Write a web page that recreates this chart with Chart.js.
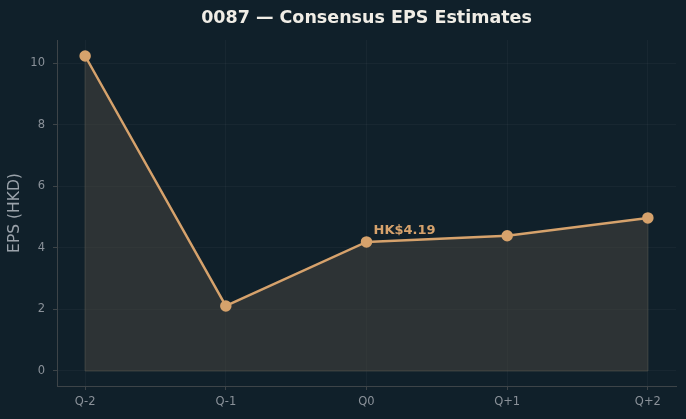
<!DOCTYPE html>
<html>
<head>
<meta charset="utf-8">
<script src="https://cdn.jsdelivr.net/npm/chart.js@4"></script>
<style>
  html, body { margin: 0; padding: 0; background: #10202a; }
  #wrap { width: 686px; height: 419px; }
</style>
</head>
<body>
<div id="wrap"><canvas id="eps-chart" width="686" height="419"></canvas></div>
<script>
// quarters and consensus EPS (HKD)
const quarters = ['Q-2', 'Q-1', 'Q0', 'Q+1', 'Q+2'];
const epsValues = [10.23, 2.11, 4.19, 4.39, 4.97];
const yTicks = [0, 2, 4, 6, 8, 10];
const highlightIndex = 2;
const highlightLabel = 'HK$4.19';

const lineColor = '#d6a26c';
const tickColor = '#8a9199';
const gridColor = 'rgba(255,255,255,0.035)';
const spineColor = '#3d4448';

// faint outline round the filled area, like fill_between's edge
const fillEdge = {
  id: 'fillEdge',
  beforeDatasetsDraw(chart) {
    const { ctx: c, scales } = chart;
    const x0 = scales.x.getPixelForValue(0);
    const x1 = scales.x.getPixelForValue(quarters.length - 1);
    const y0 = scales.y.getPixelForValue(0);
    const yEnd = scales.y.getPixelForValue(epsValues[epsValues.length - 1]);
    const yStart = scales.y.getPixelForValue(epsValues[0]);
    c.save();
    c.strokeStyle = 'rgba(120,116,100,0.45)';
    c.lineWidth = 1;
    c.beginPath();
    c.moveTo(x0, yStart);
    c.lineTo(x0, y0);
    c.lineTo(x1, y0);
    c.lineTo(x1, yEnd);
    c.stroke();
    c.restore();
  }
};

const annotate = {
  id: 'annotate',
  afterDatasetsDraw(chart) {
    const { ctx: c, scales } = chart;
    const x = scales.x.getPixelForValue(highlightIndex) + 7;
    const y = scales.y.getPixelForValue(epsValues[highlightIndex]) - 11;
    c.save();
    c.fillStyle = lineColor;
    c.font = 'bold 13px "DejaVu Sans", sans-serif';
    c.textAlign = 'left';
    c.textBaseline = 'middle';
    c.fillText(highlightLabel, x, y);
    c.restore();
  }
};

new Chart(document.getElementById('eps-chart'), {
  type: 'line',
  data: {
    datasets: [{
      data: epsValues.map((v, i) => ({ x: i, y: v })),
      borderColor: lineColor,
      borderWidth: 2.5,
      pointRadius: 4.5,
      pointBackgroundColor: lineColor,
      pointBorderColor: lineColor,
      pointHoverRadius: 4.5,
      fill: 'origin',
      backgroundColor: 'rgba(70,68,62,0.55)',
      tension: 0,
    }]
  },
  options: {
    responsive: false,
    animation: false,
    layout: { padding: { left: 0, right: 10, top: 0, bottom: 0 } },
    scales: {
      x: {
        type: 'linear', min: -0.2, max: 4.2,
        afterBuildTicks(axis) { axis.ticks = quarters.map((q, i) => ({ value: i })); },
        afterFit(axis) { axis.height = 33; },
        ticks: {
          color: tickColor, font: { family: '"DejaVu Sans"', size: 11.5 }, padding: 5,
          callback: (v) => quarters[v] ?? ''
        },
        grid: { color: gridColor, tickColor: spineColor, tickLength: 4 },
        border: { color: spineColor, width: 1 }
      },
      y: {
        min: -0.49, max: 10.75,
        afterBuildTicks(axis) { axis.ticks = yTicks.map(v => ({ value: v })); },
        afterFit(axis) { axis.width = 57; },
        ticks: { color: tickColor, font: { family: '"DejaVu Sans"', size: 11.5 }, padding: 8 },
        grid: { color: gridColor, tickColor: spineColor, tickLength: 4 },
        border: { color: spineColor, width: 1 },
        title: { display: true, text: 'EPS (HKD)', color: '#9aa2aa', font: { family: '"DejaVu Sans"', size: 15.5 }, padding: { top: 6, bottom: 0 } }
      }
    },
    plugins: {
      legend: { display: false },
      tooltip: { enabled: false },
      title: {
        display: true, fullSize: false,
        text: '0087 — Consensus EPS Estimates',
        color: '#f0ede6',
        font: { family: '"DejaVu Sans"', size: 17.5, weight: 'bold', lineHeight: 1.2 },
        padding: { top: 8, bottom: 11 }
      }
    }
  },
  plugins: [fillEdge, annotate]
});
</script>
</body>
</html>
